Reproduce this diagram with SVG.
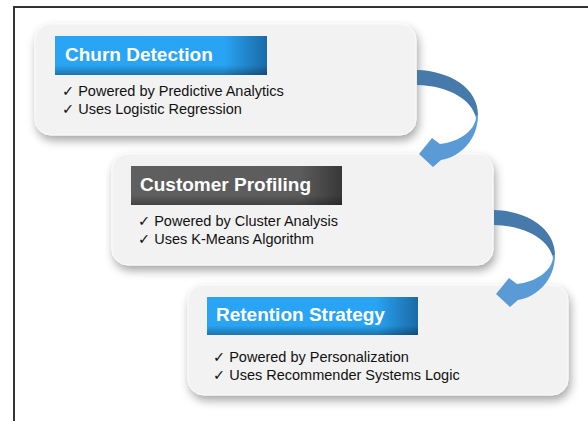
<svg xmlns="http://www.w3.org/2000/svg" width="588" height="421" viewBox="0 0 588 421">
  <defs>
    <filter id="shadow" x="-10%" y="-20%" width="125%" height="150%">
      <feDropShadow dx="2" dy="5" stdDeviation="5" flood-color="#000" flood-opacity="0.35"/>
    </filter>
    <linearGradient id="blueH" x1="0" y1="0" x2="1" y2="0">
      <stop offset="0" stop-color="#2aa4f4"/>
      <stop offset="0.8" stop-color="#29a3f3"/>
      <stop offset="1" stop-color="#1a6aa6"/>
    </linearGradient>
    <linearGradient id="grayH" x1="0" y1="0" x2="1" y2="0">
      <stop offset="0" stop-color="#5f5f5f"/>
      <stop offset="0.8" stop-color="#5c5c5c"/>
      <stop offset="1" stop-color="#383838"/>
    </linearGradient>
    <linearGradient id="shadeV" x1="0" y1="0" x2="0" y2="1">
      <stop offset="0" stop-color="#000" stop-opacity="0"/>
      <stop offset="0.75" stop-color="#000" stop-opacity="0"/>
      <stop offset="1" stop-color="#000" stop-opacity="0.3"/>
    </linearGradient>
    <linearGradient id="arrowFill" x1="0" y1="0" x2="0" y2="1">
      <stop offset="0" stop-color="#467aab"/>
      <stop offset="0.46" stop-color="#467aab"/>
      <stop offset="0.46" stop-color="#5b9bd5"/>
      <stop offset="1" stop-color="#5b9bd5"/>
    </linearGradient>
    <path id="curveArrow" d="M417,70 C450,71 478,88 478,115 C478,140 460,157 441,160 L433,167 L419,154 L432,138 L440,144 C458,142 474,132 476,118 C472,100 450,86 417,85 Z"/>
  </defs>
  <style>
    .box { fill: #f2f2f2; stroke: #fafafa; stroke-width: 1; filter: url(#shadow); }
    .title { font-family: "Liberation Sans", Arial, sans-serif; font-weight: bold; font-size: 19px; fill: #ffffff; }
    .item { font-family: "Liberation Sans", Arial, "DejaVu Sans", sans-serif; font-size: 14.5px; fill: #111111; }
    .frame { stroke: #333333; stroke-width: 2; fill: none; }
  </style>
  <rect x="0" y="0" width="588" height="421" fill="#ffffff"/>
  <path class="frame" d="M14,421 L14,7 L588,7"/>

  <g id="churn-detection">
    <rect class="box" x="35" y="24" width="381" height="111" rx="16"/>
    <rect x="55" y="36" width="212" height="39" fill="url(#blueH)"/>
    <rect x="55" y="36" width="212" height="39" fill="url(#shadeV)"/>
    <text class="title" x="65" y="61">Churn Detection</text>
    <text class="item" x="62" y="96">✓ Powered by Predictive Analytics</text>
    <text class="item" x="62" y="114">✓ Uses Logistic Regression</text>
  </g>

  <g id="customer-profiling">
    <rect class="box" x="112" y="154" width="381" height="111" rx="16"/>
    <rect x="131" y="166" width="211" height="39" fill="url(#grayH)"/>
    <rect x="131" y="166" width="211" height="39" fill="url(#shadeV)"/>
    <text class="title" x="140" y="191">Customer Profiling</text>
    <text class="item" x="138" y="226">✓ Powered by Cluster Analysis</text>
    <text class="item" x="138" y="244">✓ Uses K-Means Algorithm</text>
  </g>

  <g id="retention-strategy">
    <rect class="box" x="188" y="285" width="380" height="110" rx="16"/>
    <rect x="207" y="297" width="211" height="38" fill="url(#blueH)"/>
    <rect x="207" y="297" width="211" height="38" fill="url(#shadeV)"/>
    <text class="title" x="216" y="321">Retention Strategy</text>
    <text class="item" x="213" y="362">✓ Powered by Personalization</text>
    <text class="item" x="213" y="380">✓ Uses Recommender Systems Logic</text>
  </g>

  <g id="connectors">
    <use href="#curveArrow" fill="url(#arrowFill)"/>
    <use href="#curveArrow" fill="url(#arrowFill)" transform="translate(77,140)"/>
  </g>
</svg>
